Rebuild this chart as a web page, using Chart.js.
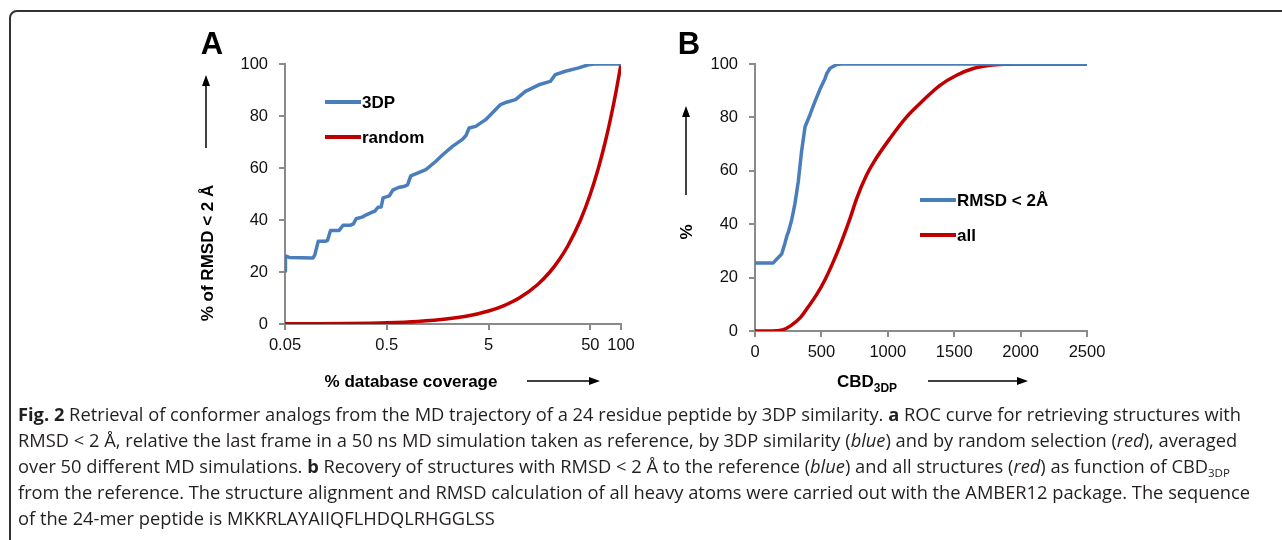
<!DOCTYPE html>
<html>
<head>
<meta charset="utf-8">
<script src="https://cdn.jsdelivr.net/npm/chart.js@4.4.1/dist/chart.umd.min.js"></script>
<style>
  body { margin: 0; width: 1282px; height: 540px; overflow: hidden; position: relative; background: #fff;
         font-family: "Liberation Sans", Arial, sans-serif; }
  .frame { position: absolute; left: 9px; top: 10px; width: 1300px; height: 560px;
           border: 2px solid #333; border-radius: 8px; box-sizing: border-box; }
  canvas { position: absolute; }
  .t { position: absolute; font-weight: bold; color: #000; white-space: nowrap; transform: translate(-50%, -50%); }
  .rot { transform: translate(-50%, -50%) rotate(-90deg); }
  .panel { font-size: 31px; }
  .axt { font-size: 17px; }
  .axt sub { font-size: 12px; vertical-align: -5px; }
  svg { position: absolute; left: 0; top: 0; }
  .caption { position: absolute; left: 18px; top: 401px; font-family: "Open Sans", Lato, sans-serif;
             font-size: 18.3px; line-height: 26px; color: #231f20; white-space: nowrap; }
  .caption b { font-weight: 700; }
  .caption sub { font-size: 11.5px; line-height: 0; vertical-align: baseline; position: relative; top: 4px; }
</style>
</head>
<body>
<div class="frame"></div>

<canvas id="chartA" width="470" height="360" style="left:190px; top:40px;"></canvas>
<canvas id="chartB" width="460" height="360" style="left:670px; top:40px;"></canvas>

<div class="t panel" style="left:212px; top:44px;">A</div>
<div class="t panel" style="left:689px; top:44px;">B</div>
<div class="t axt rot" style="left:208px; top:253px;">% of RMSD &lt; 2 Å</div>
<div class="t axt" style="left:411px; top:382px;">% database coverage</div>
<div class="t axt rot" style="left:687px; top:232px;">%</div>
<div class="t axt" style="left:867px; top:383px;">CBD<sub>3DP</sub></div>

<svg width="1282" height="540">
  <g stroke="#000" stroke-width="1.5" fill="#000">
    <line x1="206" y1="148" x2="206" y2="84"/>
    <polygon points="206,75 202,86 210,86" stroke="none"/>
    <line x1="527" y1="381" x2="591" y2="381"/>
    <polygon points="600,381 589,377 589,385" stroke="none"/>
    <line x1="686" y1="195" x2="686" y2="115"/>
    <polygon points="686,106 682,117 690,117" stroke="none"/>
    <line x1="928" y1="381" x2="1019" y2="381"/>
    <polygon points="1028,381 1017,377 1017,385" stroke="none"/>
  </g>
</svg>

<div class="caption">
<b>Fig. 2</b> Retrieval of conformer analogs from the MD trajectory of a 24 residue peptide by 3DP similarity. <b>a</b> ROC curve for retrieving structures with<br>
RMSD &lt; 2 Å, relative the last frame in a 50 ns MD simulation taken as reference, by 3DP similarity (<i>blue</i>) and by random selection (<i>red</i>), averaged<br>
over 50 different MD simulations. <b>b</b> Recovery of structures with RMSD &lt; 2 Å to the reference (<i>blue</i>) and all structures (<i>red</i>) as function of CBD<sub>3DP</sub><br>
from the reference. The structure alignment and RMSD calculation of all heavy atoms were carried out with the AMBER12 package. The sequence<br>
of the 24-mer peptide is MKKRLAYAIIQFLHDQLRHGGLSS
</div>

<script>
// Panel A: % database coverage (log axis) vs % of RMSD < 2 Å retrieved
const coverage3dp = [0.05, 0.0505, 0.055, 0.094, 0.098, 0.106, 0.124, 0.131, 0.14, 0.17, 0.186, 0.22, 0.235,
  0.25, 0.29, 0.314, 0.36, 0.38, 0.41, 0.44, 0.46, 0.53, 0.573, 0.65, 0.75, 0.8, 0.86, 1.0, 1.21, 1.52, 1.76,
  2.21, 2.77, 3.0, 3.22, 3.74, 4.68, 5.65, 6.56, 7.5, 9.2, 11.5, 15.6, 20.2, 22.6, 28.4, 38.3, 47.9, 55, 100];
const recall3dp = [20.3, 26.2, 25.6, 25.4, 26.5, 31.8, 31.8, 32.2, 36, 36, 38, 38, 38.5,
  40.5, 41.2, 42, 43, 43.3, 44.9, 45, 48.5, 49.3, 51.5, 52.5, 53, 53.5, 57, 58, 59.4, 62.6, 65,
  68.3, 71, 72.5, 75.4, 76, 78.6, 81.8, 84.4, 85.3, 86.3, 89.5, 92, 93.3, 95.9, 97.2, 98.5, 99.7, 100, 100];
const coverageRandom = [0.05, 0.1, 0.2, 0.5, 1, 2, 3, 5, 7, 10, 15, 20, 25, 30, 40, 50, 60, 70, 80, 90, 100];
const recallRandom = [0.05, 0.1, 0.2, 0.5, 1, 2, 3, 5, 7, 10, 15, 20, 25, 30, 40, 50, 60, 70, 80, 90, 100];
const xTicksA = [0.05, 0.5, 5, 50, 100];

// Panel B: CBD_3DP vs cumulative %
const cbdRmsd = [0, 138, 163, 201, 226, 239, 251, 276, 289, 301, 326, 351, 377, 414, 452, 489, 527, 540, 565, 615, 653, 2500];
const pctRmsd = [25.5, 25.5, 26.9, 28.8, 33, 35.4, 37, 41.6, 44.7, 47.8, 56, 67.4, 76.5, 81, 86, 90.5, 94.5, 96.4, 98.4, 99.8, 100, 100];
const cbdAll = [0, 100, 160, 213, 270, 339, 400, 464, 530, 590, 640, 716, 766, 841, 891, 1016, 1142, 1267, 1393, 1518, 1644, 1769, 1895, 2000, 2500];
const pctAll = [0, 0, 0.1, 0.5, 2, 4.9, 9, 13.6, 19.5, 26, 32, 42.2, 49.7, 58.5, 63, 72.1, 80.2, 86.4, 92, 95.8, 98.3, 99.5, 99.9, 100, 100];

const BLUE = '#4a7ebb';
const RED = '#c00000';
const AXIS = '#8a8a8a';

Chart.defaults.font.family = '"Liberation Sans", Arial, sans-serif';
Chart.defaults.color = '#111';

// legend drawn inside the plot, like the original
const inlineLegend = {
  id: 'inlineLegend',
  afterDatasetsDraw(chart, args, opts) {
    const ctx = chart.ctx;
    ctx.save();
    chart.data.datasets.forEach((ds, i) => {
      const y = opts.y + i * opts.gap;
      ctx.strokeStyle = ds.borderColor;
      ctx.lineWidth = 4;
      ctx.beginPath();
      ctx.moveTo(opts.x, y);
      ctx.lineTo(opts.x + 36, y);
      ctx.stroke();
      ctx.fillStyle = '#000';
      ctx.font = 'bold 17px "Liberation Sans", Arial, sans-serif';
      ctx.textBaseline = 'middle';
      ctx.fillText(ds.label, opts.x + 37, y + 1);
    });
    ctx.restore();
  }
};

function axisStyle() {
  return {
    grid: { drawOnChartArea: false, drawTicks: true, tickLength: 6, color: AXIS, lineWidth: 2 },
    border: { color: AXIS, width: 2 },
  };
}

function pts(xs, ys) {
  return xs.map((x, i) => ({ x: x, y: ys[i] }));
}

new Chart(document.getElementById('chartA'), {
  type: 'line',
  data: {
    datasets: [
      { label: '3DP', data: pts(coverage3dp, recall3dp), borderColor: BLUE, borderWidth: 3.5,
        pointRadius: 0, tension: 0, borderJoinStyle: 'round' },
      { label: 'random', data: pts(coverageRandom, recallRandom), borderColor: RED, borderWidth: 3.5,
        pointRadius: 0, cubicInterpolationMode: 'monotone' }
    ]
  },
  options: {
    responsive: false,
    animation: false,
    layout: { padding: { top: 24, right: 39, left: 0, bottom: 0 } },
    plugins: { legend: { display: false }, tooltip: { enabled: false },
               inlineLegend: { x: 135, y: 62, gap: 35 } },
    scales: {
      x: Object.assign(axisStyle(), {
        type: 'logarithmic', min: 0.05, max: 100,
        afterBuildTicks: s => { s.ticks = xTicksA.map(v => ({ value: v })); },
        afterFit: s => { s.height = 76; },
        ticks: { font: { size: 16.5 }, padding: 6, maxRotation: 0, callback: v => String(v) }
      }),
      y: Object.assign(axisStyle(), {
        min: 0, max: 100,
        afterFit: s => { s.width = 95; },
        ticks: { stepSize: 20, font: { size: 16.5 }, padding: 11 }
      })
    }
  },
  plugins: [inlineLegend]
});

new Chart(document.getElementById('chartB'), {
  type: 'line',
  data: {
    datasets: [
      { label: 'RMSD < 2Å', data: pts(cbdRmsd, pctRmsd), borderColor: BLUE, borderWidth: 3.5,
        pointRadius: 0, tension: 0, borderJoinStyle: 'round' },
      { label: 'all', data: pts(cbdAll, pctAll), borderColor: RED, borderWidth: 3.5,
        pointRadius: 0, cubicInterpolationMode: 'monotone' }
    ]
  },
  options: {
    responsive: false,
    animation: false,
    layout: { padding: { top: 24, right: 43, left: 0, bottom: 0 } },
    plugins: { legend: { display: false }, tooltip: { enabled: false },
               inlineLegend: { x: 250, y: 160, gap: 35 } },
    scales: {
      x: Object.assign(axisStyle(), {
        type: 'linear', min: 0, max: 2500,
        afterFit: s => { s.height = 69; },
        ticks: { stepSize: 500, font: { size: 16.5 }, padding: 6, maxRotation: 0, callback: v => String(v) }
      }),
      y: Object.assign(axisStyle(), {
        min: 0, max: 100,
        afterFit: s => { s.width = 85; },
        ticks: { stepSize: 20, font: { size: 16.5 }, padding: 11 }
      })
    }
  },
  plugins: [inlineLegend]
});
</script>
</body>
</html>
